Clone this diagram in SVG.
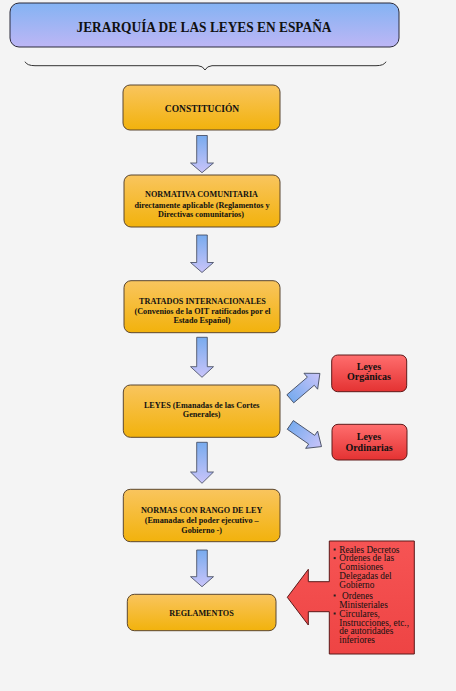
<svg xmlns="http://www.w3.org/2000/svg" width="456" height="691" viewBox="0 0 456 691">
<defs>
<linearGradient id="gTitle" x1="0" y1="0" x2="0" y2="1"><stop offset="0" stop-color="#84b3f3"/><stop offset="1" stop-color="#bdb6f5"/></linearGradient>
<linearGradient id="gOrange" x1="0" y1="0" x2="0" y2="1"><stop offset="0" stop-color="#f9c55e"/><stop offset="1" stop-color="#f2b20c"/></linearGradient>
<linearGradient id="gRed" x1="0" y1="0" x2="0" y2="1"><stop offset="0" stop-color="#ff6e6e"/><stop offset="1" stop-color="#e43232"/></linearGradient>
<linearGradient id="gCall" x1="0" y1="0" x2="0" y2="1"><stop offset="0" stop-color="#f65454"/><stop offset="1" stop-color="#ee4444"/></linearGradient>
<linearGradient id="gArrV" x1="0" y1="0" x2="0" y2="1"><stop offset="0" stop-color="#78abee"/><stop offset="1" stop-color="#c9c4f9"/></linearGradient>
<linearGradient id="gArrH" x1="0" y1="0" x2="1" y2="0"><stop offset="0" stop-color="#78abee"/><stop offset="1" stop-color="#c9c4f9"/></linearGradient>
<style>
.t{font-weight:bold;fill:#111;text-anchor:middle}
.box{fill:url(#gOrange);stroke:#5a4630;stroke-width:1}
.red{fill:url(#gRed);stroke:#5e1a1a;stroke-width:1}
.av{fill:url(#gArrV);stroke:#3c4458;stroke-width:0.8}
.ah{fill:url(#gArrH);stroke:#3c4458;stroke-width:0.8}
.s{font-size:8.2px}
.r{font-size:9.3px;fill:#111}
</style>
</defs>
<rect width="456" height="691" fill="#f4f4f4"/>
<g font-family="Liberation Serif, Times New Roman, DejaVu Serif, serif">
<g id="title">
<rect x="10" y="3" width="389" height="44" rx="9" fill="url(#gTitle)" stroke="#2a2a3a" stroke-width="1"/>
<text class="t" x="204" y="32.3" font-size="14" textLength="255" lengthAdjust="spacingAndGlyphs">JERARQUÍA DE LAS LEYES EN ESPAÑA</text>
</g>
<g id="brace">
<path d="M25,61.7 Q27,65.7 35,65.7 L198,65.7 Q203,66 205,70 Q207,66 212,65.7 L376,65.7 Q384,65.7 386,61.7" fill="none" stroke="#333" stroke-width="1"/>
</g>
<g id="constitucion">
<rect class="box" x="123" y="85" width="157" height="45" rx="7"/>
<text class="t" x="202" y="112" font-size="9.5">CONSTITUCIÓN</text>
</g>
<g id="normativa">
<rect class="box" x="124" y="175" width="156" height="52" rx="7"/>
<text class="t s" x="201.5" y="197.3">NORMATIVA COMUNITARIA</text>
<text class="t s" x="202" y="207.7">directamente aplicable (Reglamentos y</text>
<text class="t s" x="201" y="217.3">Directivas comunitarios)</text>
</g>
<g id="tratados">
<rect class="box" x="124" y="280.7" width="156" height="52" rx="7"/>
<text class="t s" x="202.5" y="304">TRATADOS INTERNACIONALES</text>
<text class="t s" x="202.5" y="314">(Convenios de la OIT ratificados por el</text>
<text class="t s" x="202" y="323.3">Estado Español)</text>
</g>
<g id="leyes">
<rect class="box" x="123.3" y="385" width="156.7" height="52.3" rx="7"/>
<text class="t s" x="201.7" y="407.7">LEYES (Emanadas de las Cortes</text>
<text class="t s" x="201.7" y="417.3">Generales)</text>
</g>
<g id="organicas">
<rect class="red" x="331.7" y="355" width="75" height="36.7" rx="6"/>
<text class="t" x="369" y="370" font-size="10">Leyes</text>
<text class="t" x="369" y="380" font-size="10">Orgánicas</text>
</g>
<g id="ordinarias">
<rect class="red" x="332" y="424.3" width="75" height="35.7" rx="6"/>
<text class="t" x="369" y="440" font-size="10">Leyes</text>
<text class="t" x="369" y="451" font-size="10">Ordinarias</text>
</g>
<g id="normas">
<rect class="box" x="123.3" y="489.3" width="156.7" height="52.4" rx="7"/>
<text class="t s" x="201.7" y="513.3">NORMAS CON RANGO DE LEY</text>
<text class="t s" x="201.7" y="523.3">(Emanadas del poder ejecutivo –</text>
<text class="t s" x="201.7" y="533.3">Gobierno -)</text>
</g>
<g id="reglamentos">
<rect class="box" x="127.3" y="594.3" width="148.7" height="36.4" rx="7"/>
<text class="t s" x="201.5" y="616">REGLAMENTOS</text>
</g>
<g id="callout">
<path d="M329.3,541 H414.3 V654 H329.3 V611.7 H308.3 V625 L287.3,597.3 L308.3,569.3 V581.7 H329.3 Z" fill="url(#gCall)" stroke="#5a1818" stroke-width="1"/>
<g fill="#222">
<rect x="333.7" y="548.5" width="2" height="2"/>
<rect x="333.7" y="557.1" width="2" height="2"/>
<rect x="333.7" y="594.5" width="2" height="2"/>
<rect x="333.7" y="612.5" width="2" height="2"/>
</g>
<text class="r" x="339.3" y="552.7">Reales Decretos</text>
<text class="r" x="339.3" y="561.3">Ordenes de las</text>
<text class="r" x="339.3" y="570.3">Comisiones</text>
<text class="r" x="339.3" y="579.3">Delegadas del</text>
<text class="r" x="339.3" y="588">Gobierno</text>
<text class="r" x="342" y="598.7">Ordenes</text>
<text class="r" x="339.3" y="607.7">Ministeriales</text>
<text class="r" x="339.3" y="616.7">Circulares,</text>
<text class="r" x="339.3" y="625.7">Instrucciones, etc.,</text>
<text class="r" x="339.3" y="634.3">de autoridades</text>
<text class="r" x="339.3" y="643.3">inferiores</text>
</g>
</g>
<g id="connectors">
<path class="av" d="M196.7,135.5 H207.3 V163 H213.5 L202,172.7 L190.5,163 H196.7 Z"/>
<path class="av" d="M196.7,235 H207.3 V262.5 H213.5 L202,272.5 L190.5,262.5 H196.7 Z"/>
<path class="av" d="M196.7,337.3 H207.3 V366.7 H213.5 L202,377.3 L190.5,366.7 H196.7 Z"/>
<path class="av" d="M196.7,442.3 H207.3 V472 H213.5 L202,483.3 L190.5,472 H196.7 Z"/>
<path class="av" d="M196.7,550 H207.3 V576.7 H213.5 L202,586.7 L190.5,576.7 H196.7 Z"/>
<path class="ah" transform="translate(290.3,398.8) rotate(-40.6)" d="M0,-5.3 H27 V-10.5 L39,0 L27,10.5 V5.3 H0 Z"/>
<path class="ah" transform="translate(290.3,424.9) rotate(34.8)" d="M0,-5.3 H26 V-10.5 L38,0 L26,10.5 V5.3 H0 Z"/>
</g>
</svg>
